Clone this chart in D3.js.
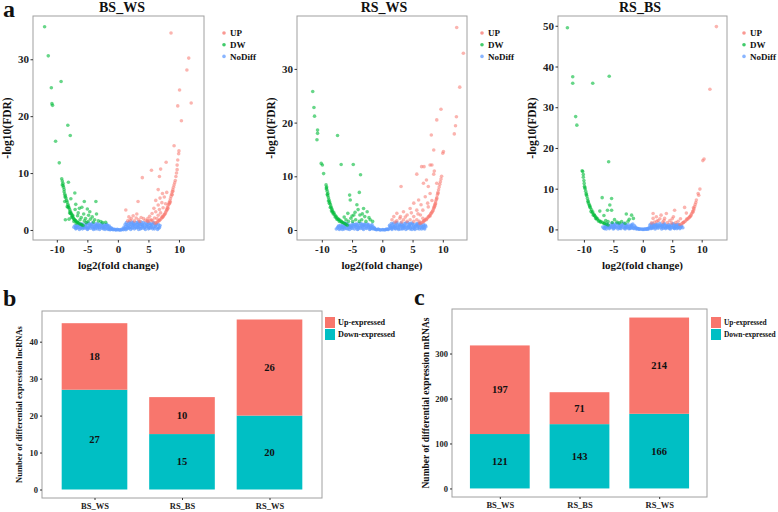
<!DOCTYPE html>
<html><head><meta charset="utf-8">
<script src="https://cdn.jsdelivr.net/npm/d3@7/dist/d3.min.js"></script>
<style>body{margin:0;background:#fff}svg{display:block}</style>
</head><body>
<svg id="c" width="778" height="512"></svg>
<script>
// ---------- DATA ----------
const volcanoTitles = ["BS_WS", "RS_WS", "RS_BS"];
const legendLabels = ["UP", "DW", "NoDiff"];
const xTickValues = [-10, -5, 0, 5, 10];

// BS_WS  [log2FC, -log10FDR]
const bsws_up = [[8.7,34.6],[11.6,30.2],[11.3,28.1],[10.1,24.6],[12.0,22.3],[9.8,21.8],[10.4,19.2],[9.2,14.8],[10.0,13.9],[9.95,13.4],[9.8,12.3],[7.9,11.9],[7.0,10.7],[6.8,9.4],[4.0,9.2],[5.5,10.5],[9.7,11.4],[9.7,10.6],[9.6,10.0],[9.5,9.4],
[9.4,8.7],[9.3,8.3],[9.2,7.9],[9.1,7.5],[9.0,7.1],[8.9,6.7],[8.8,6.3],[8.7,5.9],[8.6,5.5],[8.5,5.1],[8.4,4.8],[8.3,4.5],[8.2,4.2],[8.1,3.9],[8.0,3.6],[7.9,3.3],[7.8,3.0],[7.6,2.7],[7.5,2.5],[7.3,2.2],[7.1,2.0],[6.9,1.8],[6.7,1.6],[6.5,1.45],[6.3,1.3],[6.1,1.2],[8.6,4.9],[8.2,3.8],[7.7,2.8],[7.2,2.3],[8.9,6.2],[9.0,6.8],[8.45,4.6],[8.05,3.5],[7.4,2.35],[6.8,1.7],
[6.6,7.1],[7.3,6.4],[8.0,6.6],[7.6,5.8],[6.9,5.6],[6.2,5.2],[7.2,4.8],[6.6,4.4],[7.8,4.6],[5.9,3.8],[6.8,3.6],[7.4,3.9],[6.2,3.2],[5.6,2.9],[6.6,2.6],[5.2,2.4],[6.0,2.1],[5.5,1.8],[4.8,1.6],[7.0,3.0],[6.4,2.0],[5.0,1.5],
[3.3,5.0],[1.3,3.5],[1.8,2.3],[2.2,2.0],[2.5,2.5],[3.0,2.1],[3.4,1.8],[3.8,2.2],[4.2,2.0],[2.0,1.7],[2.7,1.6],[3.6,1.5],[4.5,1.7],[1.6,1.6],[3.1,2.8],[5.7,1.6],[4.9,2.0],[5.3,1.7]];
const bsws_dw = [[-12.0,35.7],[-11.4,30.6],[-10.9,25.0],[-9.3,26.1],[-10.8,22.2],[-10.7,21.9],[-8.2,18.4],[-7.8,16.6],[-10.2,15.6],[-9.6,11.8],
[-9.2,9.0],[-9.1,8.6],[-9.0,8.2],[-9.1,7.9],[-8.9,7.5],[-8.8,7.1],[-8.8,6.7],[-8.7,6.3],[-8.6,6.0],[-8.5,5.6],[-8.4,5.2],[-8.3,4.9],[-8.2,4.5],[-8.1,4.2],[-8.0,3.9],[-7.9,3.6],[-7.8,3.3],[-7.7,3.0],[-7.6,2.8],[-7.5,2.5],[-7.4,2.3],[-7.3,2.1],[-7.2,1.9],[-7.0,1.7],[-6.9,1.6],[-6.7,1.4],[-6.5,1.25],[-6.3,1.1],[-6.1,1.0],[-5.9,0.9],[-5.7,0.8],[-8.7,5.0],[-8.3,4.1],[-7.9,3.0],[-7.6,2.2],[-7.2,1.5],[-6.8,1.2],[-8.6,1.8],[-8.0,1.9],[-7.4,2.6],[-8.95,7.8],[-8.65,5.8],[-8.15,4.0],[-7.75,2.9],[-7.1,1.8],[-6.6,1.35],
[-8.1,8.4],[-7.05,6.5],[-7.7,5.5],[-6.9,4.5],[-6.3,3.8],[-5.5,5.0],[-3.6,5.0],[-5.9,4.0],[-5.0,3.7],[-6.5,3.0],[-5.6,2.8],[-4.8,2.6],[-4.2,2.3],[-6.0,2.2],[-5.3,2.0],[-4.5,1.9],[-3.8,1.8],[-3.2,1.6],[-2.8,1.5],[-6.2,1.8],[-5.5,1.6],[-4.9,1.5],[-4.0,1.4],[-2.5,1.3],[-7.0,3.6],[-6.6,2.5],[-3.5,2.8],[-4.6,3.2],[-5.2,1.3],[-2.0,1.35]];
const bsws_nd = [[-7.2,0.5],[-6.9,0.2],[-6.7,0.7],[-6.5,0.4],[-6.3,0.1],[-6.2,0.8],[-6.0,0.5],[-5.8,0.2],[-5.7,1.0],[-5.5,0.6],[-5.4,0.3],[-5.2,0.9],[-5.0,0.1],[-4.9,0.5],[-4.8,1.2],[-4.6,0.8],[-4.5,0.3],[-4.3,1.0],[-4.2,0.6],[-4.0,0.1],[-3.9,0.9],[-3.8,0.4],[-3.6,1.1],[-3.5,0.7],[-3.4,0.2],[-3.2,0.9],[-3.1,0.5],[-3.0,0.1],[-2.8,1.0],[-2.7,0.6],[-2.6,0.3],[-2.4,0.8],[-2.3,0.4],[-2.1,0.1],[-2.0,0.7],[-1.9,1.0],[-1.8,0.3],[-1.6,0.6],[-1.5,0.2],[-1.3,0.4],[-1.2,0.1],[-1.0,0.2],[-0.8,0.05],[-0.5,0.1],[-0.3,0.0],[0.0,0.05],[0.3,0.0],[0.6,0.1],[0.9,0.05],[1.1,0.3],[1.2,1.0],[1.3,0.6],[1.4,1.3],[1.5,0.2],[1.7,0.8],[1.8,1.2],[1.9,0.4],[2.1,0.1],[2.2,0.9],[2.3,1.4],[2.4,0.5],[2.6,1.1],[2.7,0.2],[2.8,0.7],[3.0,1.3],[3.1,0.4],[3.2,0.9],[3.4,0.1],[3.5,1.2],[3.6,0.6],[3.8,1.0],[3.9,0.3],[4.1,0.8],[4.2,1.3],[4.4,0.5],[4.5,0.1],[4.7,1.0],[4.8,0.6],[5.0,0.2],[5.1,1.2],[5.3,0.8],[5.4,0.4],[5.6,1.0],[5.8,0.5],[6.0,0.2],[6.2,0.8],[6.4,0.4],[6.6,1.0],[6.8,0.5],[-6.0,1.1],[-5.1,0.4],[-4.1,0.3],[-3.3,0.7],[-2.5,0.5],[-1.7,0.8],[1.6,0.5],[2.5,0.8],[3.3,0.5],[4.0,0.6],[4.9,0.9],[5.9,1.1],[0.8,0.15],[-0.9,0.15],
[-7.0,0.8],[-6.8,0.3],[-6.6,0.6],[-6.4,0.9],[-6.1,0.3],[-5.9,0.7],[-5.6,0.4],[-5.3,0.6],[-5.1,1.1],[-4.9,0.2],[-4.7,0.5],[-4.4,0.7],[-4.2,1.2],[-3.9,0.6],[-3.7,0.2],[-3.6,0.8],[-3.3,1.1],[-3.0,0.4],[-2.9,0.8],[-2.6,1.1],[-2.4,0.2],[-2.2,0.6],[-2.0,0.3],[-1.8,0.9],[-1.6,0.1],[-1.4,0.7],[-1.1,0.4],[-0.7,0.1],[-0.4,0.05],[-0.1,0.1],[0.2,0.05],[0.5,0.0],[1.0,0.5],[1.2,0.2],[1.5,0.9],[1.7,0.3],[1.9,1.4],[2.0,0.6],[2.3,0.3],[2.5,1.3],[2.7,0.9],[2.9,0.4],[3.1,1.0],[3.3,1.4],[3.4,0.7],[3.7,0.2],[3.8,1.4],[4.0,0.9],[4.3,0.3],[4.4,1.1],[4.6,0.7],[4.8,1.4],[5.0,0.5],[5.2,0.3],[5.5,0.7],[5.7,0.2],[5.8,1.3],[6.1,0.6],[6.3,1.0],[6.5,0.1],[6.7,0.3],[6.9,0.8],[-6.9,0.5],[-5.8,0.5],[-4.6,1.0],[-3.4,0.5],[-2.2,0.9],[2.1,1.1],[3.6,1.1],[5.3,1.1],[1.3,0.05],[-1.3,0.05]];

// RS_WS
const rsws_up = [[12.3,37.7],[13.4,32.9],[12.8,26.6],[9.7,22.5],[12.25,21.1],[9.0,20.5],[12.1,19.4],[11.9,17.9],[8.1,17.7],[8.5,14.9],[6.5,11.8],[6.9,11.8],[7.9,12.1],[5.7,10.4],[8.6,11.0],[8.2,12.1],[8.5,10.4],[6.8,8.7],[7.6,8.1],[9.0,8.7],[3.1,8.1],[7.3,9.3],
[10.1,14.6],[10.0,14.3],[9.8,10.0],[9.7,9.5],[9.6,9.0],[9.5,8.5],[9.4,8.0],[9.3,7.5],[9.2,7.0],[9.1,6.5],[9.0,6.0],[8.9,5.6],[8.8,5.2],[8.7,4.8],[8.6,4.4],[8.5,4.0],[8.4,3.7],[8.2,3.3],[8.0,3.0],[7.8,2.7],[7.6,2.4],[7.4,2.2],[7.2,2.0],[7.0,1.8],[6.8,1.6],[6.6,1.45],[6.4,1.3],[6.2,1.2],[9.0,5.8],[8.7,4.5],[8.3,3.5],[7.9,2.6],[7.3,1.9],[9.2,6.8],[8.8,4.9],[8.55,4.2],[8.1,3.1],[7.7,2.5],[6.9,1.7],
[7.9,6.8],[7.1,6.2],[6.0,5.6],[5.2,5.0],[6.4,4.7],[7.5,5.0],[4.6,4.0],[5.7,3.7],[6.7,3.7],[3.5,3.4],[2.4,3.1],[1.9,2.5],[3.0,2.5],[4.1,2.8],[5.2,2.5],[6.3,2.8],[1.6,1.9],[2.4,1.7],[3.5,1.9],[4.6,1.9],[5.7,1.9],[6.7,2.2],[4.1,1.6],[5.2,1.6],[2.9,2.2],[4.8,3.2],[3.8,2.4],[5.9,3.0],[2.1,1.5],[3.2,1.5],[6.1,1.6],[7.6,4.3],[8.2,5.5]];
const rsws_dw = [[-11.5,25.8],[-11.3,22.8],[-11.2,21.2],[-10.7,18.6],[-10.7,18.0],[-10.8,16.8],[-7.4,17.6],[-10.1,12.4],[-9.9,12.1],[-6.8,12.2],[-4.8,12.2],[-3.6,10.3],[-9.7,10.5],[-3.8,7.0],[-5.4,6.5],
[-9.3,8.4],[-9.2,8.0],[-9.2,7.6],[-9.1,7.2],[-9.0,6.8],[-9.0,6.4],[-8.9,6.0],[-8.8,5.6],[-8.7,5.2],[-8.6,4.8],[-8.5,4.4],[-8.4,4.1],[-8.3,3.8],[-8.2,3.5],[-8.0,3.2],[-7.9,2.9],[-7.7,2.6],[-7.6,2.4],[-7.4,2.2],[-7.2,2.0],[-7.0,1.8],[-6.8,1.6],[-6.6,1.45],[-6.4,1.3],[-6.2,1.2],[-6.0,1.05],[-5.8,0.9],[-8.9,5.4],[-8.6,4.2],[-8.1,3.0],[-7.5,2.0],[-9.1,6.6],[-8.4,3.6],[-7.8,2.4],[-7.1,1.6],[-9.25,7.8],[-8.75,5.0],[-8.25,3.3],[-7.3,1.9],[-6.7,1.5],
[-5.3,5.6],[-4.2,4.7],[-3.1,4.0],[-2.5,3.4],[-4.0,3.8],[-5.7,3.1],[-4.7,2.8],[-3.7,2.8],[-2.9,2.5],[-2.0,1.9],[-6.0,1.9],[-5.2,2.2],[-4.4,1.9],[-3.4,1.9],[-1.6,1.6],[-2.7,1.6],[-5.6,1.6],[-4.9,1.6],[-3.8,1.6],[-4.5,3.3],[-3.3,3.0],[-2.2,2.3],[-5.0,2.6],[-6.3,2.4]];
const rsws_nd = [[-7.6,0.2],[-7.3,0.6],[-7.1,0.1],[-6.9,0.9],[-6.7,0.4],[-6.5,1.0],[-6.3,0.2],[-6.1,0.7],[-5.9,0.3],[-5.8,1.1],[-5.6,0.6],[-5.4,0.1],[-5.3,0.9],[-5.1,0.4],[-4.9,1.2],[-4.8,0.7],[-4.6,0.2],[-4.4,1.0],[-4.3,0.5],[-4.1,0.1],[-3.9,1.2],[-3.8,0.8],[-3.6,0.3],[-3.4,1.0],[-3.3,0.6],[-3.1,0.1],[-2.9,1.1],[-2.8,0.7],[-2.6,0.3],[-2.4,0.9],[-2.3,0.5],[-2.1,0.1],[-1.9,0.8],[-1.8,0.4],[-1.6,0.6],[-1.5,0.2],[-1.3,0.3],[-1.1,0.1],[-0.9,0.05],[-0.6,0.1],[-0.3,0.0],[0.0,0.05],[0.3,0.0],[0.6,0.1],[0.9,0.1],[1.1,0.3],[1.2,0.9],[1.4,0.5],[1.5,1.2],[1.6,0.1],[1.8,0.7],[1.9,1.3],[2.1,0.3],[2.2,0.9],[2.4,1.4],[2.5,0.5],[2.7,0.1],[2.8,1.0],[3.0,0.6],[3.1,1.3],[3.3,0.2],[3.4,0.9],[3.6,0.5],[3.7,1.2],[3.9,0.1],[4.0,0.8],[4.2,1.4],[4.3,0.4],[4.5,1.0],[4.6,0.2],[4.8,0.7],[4.9,1.3],[5.1,0.4],[5.2,1.0],[5.4,0.1],[5.5,0.7],[5.7,1.2],[5.8,0.3],[6.0,0.9],[6.2,0.5],[6.3,1.1],[6.5,0.2],[6.7,0.7],[6.9,0.4],[7.1,0.9],[-6.2,1.3],[-5.0,0.8],[-4.0,0.6],[-3.0,0.8],[-2.0,0.5],[-1.7,1.0],[1.7,0.4],[2.6,0.8],[3.5,0.8],[4.4,0.6],[5.3,0.6],[6.1,1.3],[-0.7,0.2],[0.7,0.2],
[-7.4,0.4],[-7.2,0.8],[-7.0,0.3],[-6.8,0.6],[-6.6,0.1],[-6.4,0.7],[-6.2,0.4],[-6.0,1.1],[-5.7,0.2],[-5.5,0.9],[-5.2,0.6],[-5.0,0.3],[-4.7,1.0],[-4.5,0.6],[-4.2,0.8],[-4.0,0.2],[-3.7,0.5],[-3.5,1.2],[-3.2,0.3],[-3.0,1.0],[-2.7,0.4],[-2.5,1.1],[-2.2,0.7],[-2.0,0.2],[-1.7,0.3],[-1.4,0.5],[-1.2,0.2],[-1.0,0.1],[-0.4,0.05],[0.1,0.1],[0.5,0.05],[1.0,0.1],[1.3,0.7],[1.5,0.3],[1.7,1.0],[2.0,0.5],[2.2,0.2],[2.3,1.2],[2.6,0.3],[2.9,0.8],[3.0,0.2],[3.2,1.0],[3.5,0.3],[3.8,0.6],[3.9,1.3],[4.1,0.3],[4.4,0.9],[4.7,0.4],[4.9,0.1],[5.0,1.1],[5.3,0.3],[5.6,0.9],[5.9,0.6],[6.1,0.2],[6.4,0.8],[6.6,0.4],[6.8,1.0],[7.0,0.2],[7.2,0.6],[-6.5,0.5],[-5.4,0.5],[-4.3,1.1],[-3.3,0.8],[-2.3,1.0],[2.1,0.7],[3.3,0.6],[4.6,1.2],[5.8,1.0]];

// RS_BS
const rsbs_up = [[12.5,49.8],[11.4,34.4],[10.4,17.3],[10.2,16.9],[9.7,9.9],[9.5,8.4],[9.4,8.8],[7.1,5.4],[5.4,4.7],[7.4,4.0],[8.5,4.3],
[9.1,7.2],[9.0,6.6],[8.9,6.1],[8.8,5.6],[8.7,5.1],[8.6,4.7],[8.5,4.3],[8.3,3.9],[8.2,3.5],[8.0,3.1],[7.8,2.8],[7.6,2.5],[7.4,2.3],[7.2,2.0],[7.0,1.8],[6.8,1.6],[6.6,1.4],[6.3,1.2],[8.6,5.3],[8.1,3.3],[7.5,2.6],[7.9,3.0],[6.9,1.7],
[1.75,3.9],[2.3,3.1],[3.1,3.5],[3.7,2.7],[2.6,2.2],[4.6,2.2],[5.2,3.1],[2.0,1.8],[3.4,1.8],[4.9,1.6],[6.0,2.0],[1.75,2.7],[4.0,3.9],[2.9,2.6],[4.2,1.7],[5.6,1.7],[1.5,1.6],[3.6,2.2],[6.4,2.6],[5.0,2.6],[2.4,2.0]];
const rsbs_dw = [[-12.8,49.5],[-11.9,37.5],[-11.9,35.9],[-8.5,35.9],[-5.7,37.6],[-11.4,27.7],[-11.2,25.6],[-5.8,16.6],[-10.3,14.4],
[-6.9,7.8],[-5.3,7.6],[-5.6,6.0],[-6.0,4.7],[-7.3,4.5],[-5.3,4.7],[-2.8,3.8],[-1.9,3.5],[-1.6,2.7],[-2.3,2.5],[-3.6,1.9],[-5.9,1.9],[-4.8,2.4],[-4.0,1.6],[-3.0,1.5],[-2.5,2.0],[-5.2,1.7],[-6.3,2.2],[-6.6,3.4],[-4.4,1.8],
[-10.2,14.2],[-10.1,13.5],[-10.1,12.8],[-10.0,12.0],[-9.95,11.3],[-9.9,10.6],[-9.8,10.0],[-9.7,9.4],[-9.6,8.8],[-9.5,8.2],[-9.4,7.6],[-9.3,7.0],[-9.2,6.4],[-9.0,5.8],[-8.9,5.3],[-8.7,4.8],[-8.5,4.3],[-8.3,3.7],[-8.1,3.2],[-7.9,2.9],[-7.7,2.6],[-7.4,2.2],[-7.1,1.9],[-6.8,1.7],[-6.5,1.5],[-6.2,1.3],[-5.9,1.1],[-9.6,8.5],[-9.1,6.0],[-8.6,4.1],[-8.0,2.7],[-7.5,2.0],[-9.85,10.3],[-9.3,6.8],[-8.8,4.4],[-8.2,3.4],[-7.8,2.5],[-7.2,1.8],[-6.6,1.45],[-8.4,3.5],[-9.0,5.5]];
const rsbs_nd = [[-6.6,0.3],[-6.4,0.9],[-6.2,0.1],[-6.0,1.3],[-5.9,0.6],[-5.7,0.2],[-5.5,1.0],[-5.3,0.5],[-5.2,1.5],[-5.0,0.1],[-4.8,0.8],[-4.7,1.3],[-4.5,0.4],[-4.3,1.0],[-4.2,0.1],[-4.0,1.4],[-3.8,0.6],[-3.7,0.2],[-3.5,1.1],[-3.3,0.5],[-3.2,1.5],[-3.0,0.1],[-2.8,0.9],[-2.7,0.4],[-2.5,1.2],[-2.3,0.7],[-2.2,0.2],[-2.0,1.0],[-1.8,0.5],[-1.7,1.3],[-1.5,0.2],[-1.3,0.6],[-1.1,0.1],[-0.9,0.3],[-0.6,0.05],[-0.3,0.1],[0.0,0.0],[0.3,0.1],[0.6,0.05],[0.9,0.2],[1.1,0.5],[1.2,1.1],[1.4,0.2],[1.5,0.8],[1.7,1.4],[1.8,0.4],[2.0,1.0],[2.1,0.1],[2.3,0.7],[2.4,1.3],[2.6,0.3],[2.8,0.9],[2.9,1.5],[3.1,0.5],[3.2,0.1],[3.4,1.1],[3.6,0.6],[3.7,1.4],[3.9,0.2],[4.1,0.9],[4.2,0.4],[4.4,1.2],[4.6,0.7],[4.7,0.1],[4.9,1.0],[5.1,0.5],[5.2,1.4],[5.4,0.2],[5.6,0.8],[5.7,1.2],[5.9,0.4],[6.1,0.9],[6.3,0.2],[6.5,0.7],[6.8,0.4],[-6.1,0.7],[-4.9,1.1],[-3.9,0.9],[-2.9,0.5],[-1.9,0.7],[1.6,0.3],[2.5,0.6],[3.5,0.3],[4.5,0.9],[5.5,0.5],[6.2,1.1],[-0.8,0.15],[0.8,0.1],
[-6.8,0.6],[-6.5,0.2],[-6.3,0.5],[-6.1,1.1],[-5.8,0.9],[-5.6,0.4],[-5.4,0.7],[-5.1,1.2],[-4.9,0.3],[-4.6,0.6],[-4.4,1.5],[-4.1,0.5],[-3.9,0.3],[-3.6,0.8],[-3.4,1.3],[-3.1,0.3],[-2.9,1.1],[-2.6,0.6],[-2.4,0.2],[-2.1,0.5],[-1.9,1.1],[-1.6,0.3],[-1.4,0.9],[-1.2,0.4],[-1.0,0.2],[-0.5,0.1],[-0.1,0.05],[0.2,0.0],[0.5,0.1],[1.0,0.1],[1.3,0.4],[1.4,1.3],[1.6,0.6],[1.9,0.7],[2.2,0.4],[2.2,1.2],[2.5,1.0],[2.7,0.6],[3.0,1.1],[3.3,0.7],[3.5,1.3],[3.8,0.4],[3.9,1.0],[4.3,0.6],[4.5,0.2],[4.8,0.5],[5.0,1.3],[5.3,0.8],[5.5,1.1],[5.8,0.2],[6.0,0.6],[6.4,0.4],[6.6,0.9],[-6.3,0.8],[-5.0,0.6],[-4.1,1.2],[-3.0,0.7],[-2.0,0.3],[1.8,1.1],[3.2,0.8],[4.0,0.7],[5.3,0.3],[6.0,1.2],[-0.7,0.1],[0.7,0.15]];

// Bar charts
const barCategories = ["BS_WS", "RS_BS", "RS_WS"];
const lnc_up = [18, 10, 26];
const lnc_down = [27, 15, 20];
const mrna_up = [197, 71, 214];
const mrna_down = [121, 143, 166];
const barLegend = ["Up-expressed", "Down-expressed"];
const lncTicks = [0, 10, 20, 30, 40];
const mrnaTicks = [0, 100, 200, 300];

// ---------- DRAW ----------
const FONT = '"Liberation Serif","Times New Roman",serif';
const C_UP = "#F8766D", C_DW = "#00BA38", C_ND = "#619CFF", C_TEAL = "#00BFC4";
const svg = d3.select("#c");

function styleAxis(g, fs) {
  g.select(".domain").remove();
  g.selectAll(".tick line").attr("stroke", "#333").attr("stroke-width", 1);
  g.selectAll(".tick text").attr("font-family", FONT).attr("font-weight", "bold")
    .attr("font-size", fs).attr("fill", "#222");
}
function txt(parent, x, y, s, fs, anchor) {
  return parent.append("text").attr("x", x).attr("y", y).text(s)
    .attr("font-family", FONT).attr("font-weight", "bold").attr("font-size", fs)
    .attr("fill", "#111").attr("text-anchor", anchor || "start");
}

function volcano(o) {
  const x = d3.scaleLinear().domain(o.xDom).range([o.l, o.r]);
  const y = d3.scaleLinear().domain(o.yDom).range([o.b, o.t]);
  const g = svg.append("g");
  const layers = [[o.nd, C_ND, 0.7], [o.dw, C_DW, 0.6], [o.up, C_UP, 0.55]];
  layers.forEach(([data, col, op]) => {
    g.append("g").selectAll("circle").data(data).join("circle")
      .attr("cx", d => x(d[0])).attr("cy", d => y(d[1])).attr("r", 1.8)
      .attr("fill", col).attr("fill-opacity", op);
  });
  g.append("rect").attr("x", o.l).attr("y", o.t).attr("width", o.r - o.l).attr("height", o.b - o.t)
    .attr("fill", "none").attr("stroke", "#a0a0a0").attr("stroke-width", 1);
  const ax = g.append("g").attr("transform", `translate(0,${o.b})`)
    .call(d3.axisBottom(x).tickValues(xTickValues).tickFormat(d => String(d)).tickSize(2.5).tickPadding(2.5));
  styleAxis(ax, 11);
  const ay = g.append("g").attr("transform", `translate(${o.l},0)`)
    .call(d3.axisLeft(y).tickValues(o.yTicks).tickFormat(d => String(d)).tickSize(2.5).tickPadding(1.5));
  styleAxis(ay, 11);
  txt(g, o.titleX, 12, o.title, 14, "middle");
  txt(g, (o.l + o.r) / 2, 268.5, "log2(fold change)", 11, "middle");
  txt(g, 0, 0, "-log10(FDR)", 11.5, "middle")
    .attr("transform", `translate(${o.l - 22},${(o.t + o.b) / 2}) rotate(-90)`);
  const lc = [C_UP, C_DW, C_ND];
  legendLabels.forEach((lab, i) => {
    const yy = 33 + i * 11.7;
    g.append("circle").attr("cx", o.legX).attr("cy", yy).attr("r", 1.8).attr("fill", lc[i]).attr("fill-opacity", 0.75);
    txt(g, o.legX + 6, yy, lab, 9, "start").attr("dy", "0.35em");
  });
}

volcano({l: 33, r: 204, t: 16, b: 240, xDom: [-13.9, 14.1], yDom: [-1.76, 37.6], yTicks: [0, 10, 20, 30],
  title: volcanoTitles[0], titleX: 122, legX: 224, up: bsws_up, dw: bsws_dw, nd: bsws_nd});
volcano({l: 297, r: 467, t: 16, b: 240, xDom: [-14.1, 14.0], yDom: [-1.86, 39.85], yTicks: [0, 10, 20, 30],
  title: volcanoTitles[1], titleX: 384, legX: 482, up: rsws_up, dw: rsws_dw, nd: rsws_nd});
volcano({l: 558, r: 727, t: 16, b: 240, xDom: [-14.4, 14.3], yDom: [-2.6, 52.4], yTicks: [0, 10, 20, 30, 40, 50],
  title: volcanoTitles[2], titleX: 640, legX: 744, up: rsbs_up, dw: rsbs_dw, nd: rsbs_nd});

function bars(o) {
  const x = d3.scalePoint().domain(barCategories).range([o.l, o.r]).padding(0.6);
  const bw = x.step() * 0.75;
  const y = d3.scaleLinear().domain(o.yDom).range([o.b, o.t]);
  const g = svg.append("g");
  const rows = barCategories.map((c, i) => ({c, down: o.down[i], up: o.up[i]}));
  g.append("g").selectAll("rect").data(rows).join("rect")
    .attr("x", d => x(d.c) - bw / 2).attr("width", bw)
    .attr("y", d => y(d.down)).attr("height", d => y(0) - y(d.down)).attr("fill", C_TEAL);
  g.append("g").selectAll("rect").data(rows).join("rect")
    .attr("x", d => x(d.c) - bw / 2).attr("width", bw)
    .attr("y", d => y(d.down + d.up)).attr("height", d => y(d.down) - y(d.down + d.up)).attr("fill", C_UP);
  rows.forEach(d => {
    txt(g, x(d.c), y(d.down / 2), String(d.down), 10.5, "middle").attr("dy", "0.35em");
    txt(g, x(d.c), y(d.down + d.up / 2), String(d.up), 10.5, "middle").attr("dy", "0.35em");
  });
  g.append("rect").attr("x", o.l).attr("y", o.t).attr("width", o.r - o.l).attr("height", o.b - o.t)
    .attr("fill", "none").attr("stroke", "#a0a0a0").attr("stroke-width", 1);
  const ax = g.append("g").attr("transform", `translate(0,${o.b})`)
    .call(d3.axisBottom(x).tickSize(2).tickPadding(3));
  styleAxis(ax, 8.5);
  const ay = g.append("g").attr("transform", `translate(${o.l},0)`)
    .call(d3.axisLeft(y).tickValues(o.ticks).tickFormat(d => String(d)).tickSize(2).tickPadding(2));
  styleAxis(ay, 8.5);
  txt(g, 0, 0, o.ytitle, o.yfs, "middle")
    .attr("transform", `translate(${o.ytx},${(o.t + o.b) / 2}) rotate(-90)`);
  const cols = [C_UP, C_TEAL];
  barLegend.forEach((lab, i) => {
    const yy = 317 + i * 12;
    g.append("rect").attr("x", o.legX).attr("y", yy).attr("width", 10).attr("height", 11).attr("fill", cols[i]);
    txt(g, o.legX + 13, yy + 5.5, lab, o.legFs, "start").attr("dy", "0.35em");
  });
  txt(g, o.labX, o.labY, o.lab, 24, "start");
}

bars({l: 42, r: 322, t: 311, b: 498, yDom: [-2.3, 48.3], ticks: lncTicks, up: lnc_up, down: lnc_down,
  ytitle: "Number of differential expression lncRNAs", yfs: 8.5, ytx: 21.5, legX: 325, legFs: 8.2,
  lab: "b", labX: 3, labY: 306});
bars({l: 452, r: 707, t: 309, b: 497, yDom: [-19, 399], ticks: mrnaTicks, up: mrna_up, down: mrna_down,
  ytitle: "Number of differential expression mRNAs", yfs: 9.5, ytx: 428.5, legX: 711, legFs: 7.4,
  lab: "c", labX: 414, labY: 305});

txt(svg, 3, 17, "a", 24, "start");
</script>
</body></html>
